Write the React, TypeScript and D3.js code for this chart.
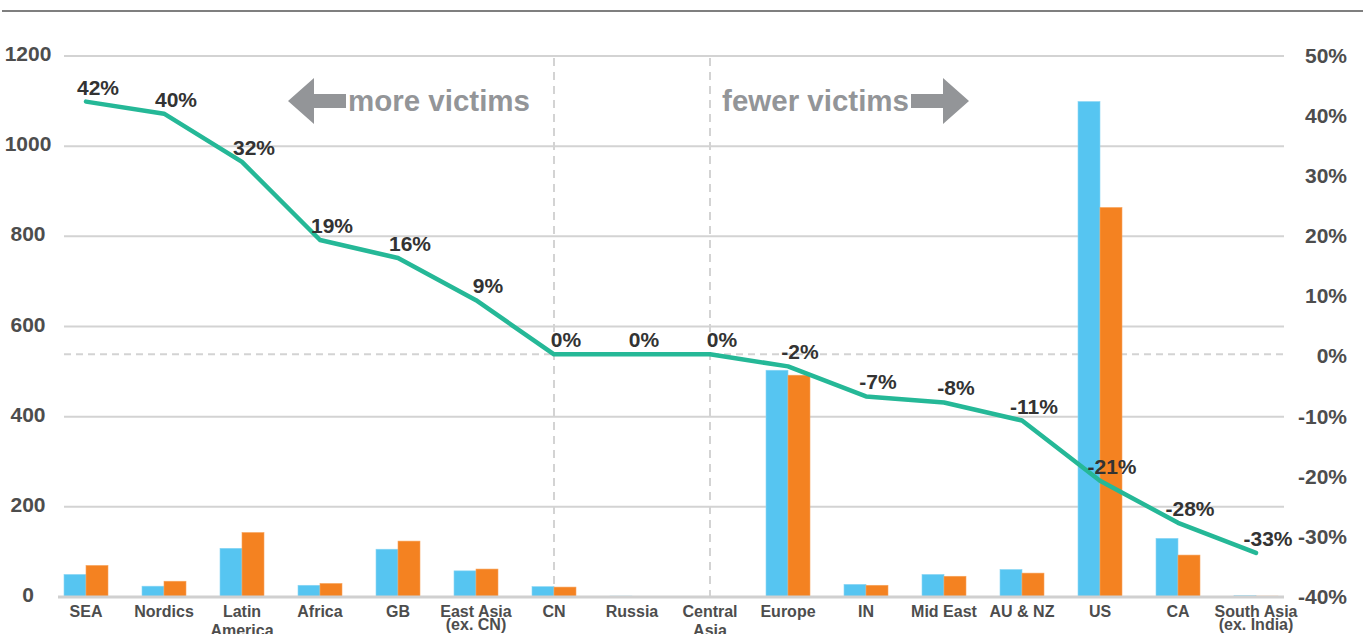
import React from "react";
import * as d3 from "d3";

const categories = ["SEA", "Nordics", "Latin America", "Africa", "GB", "East Asia (ex. CN)", "CN", "Russia", "Central Asia", "Europe", "IN", "Mid East", "AU & NZ", "US", "CA", "South Asia (ex. India)"];
const categoryLines = [["SEA"], ["Nordics"], ["Latin", "America"], ["Africa"], ["GB"], ["East Asia", "(ex. CN)"], ["CN"], ["Russia"], ["Central", "Asia"], ["Europe"], ["IN"], ["Mid East"], ["AU & NZ"], ["US"], ["CA"], ["South Asia", "(ex. India)"]];
const blueValues = [50, 24, 108, 26, 106, 58, 23, 2, 1, 503, 28, 50, 61, 1099, 130, 3];
const orangeValues = [70, 35, 143, 30, 124, 62, 22, 0.5, 0.3, 492, 26, 46, 53, 864, 93, 2];
const changePct = [42, 40, 32, 19, 16, 9, 0, 0, 0, -2, -7, -8, -11, -21, -28, -33];
const leftTicks = [0, 200, 400, 600, 800, 1000, 1200];
const rightTicks = [50, 40, 30, 20, 10, 0, -10, -20, -30, -40];
const dividerCategories = ["CN", "Central Asia"];

const FONT = "'Liberation Sans', Arial, Helvetica, sans-serif";

export default function App() {
  const W = 1363, H = 634;
  const x = d3.scaleBand<string>().domain(categories).range([47, 1295]).paddingInner(0.436).paddingOuter(0.218);
  const sub = d3.scaleBand<string>().domain(["blue", "orange"]).range([0, x.bandwidth()]);
  const yL = d3.scaleLinear().domain([0, 1200]).range([597, 56]);
  const yR = d3.scaleLinear().domain([-40, 50]).range([595, 53.5]);
  const cx = (c: string) => (x(c) as number) + x.bandwidth() / 2;
  const gridX0 = 64, gridX1 = 1284;

  const line = d3.line<number>().x((_, i) => cx(categories[i])).y((d) => yR(d));

  const arrowPath = (tipX: number, dir: number, cy: number) => {
    const headLen = 26, headH = 23, shaftH = 7, shaftLen = 32;
    const bx = tipX + dir * headLen;
    const ex = bx + dir * shaftLen;
    return `M${tipX},${cy} L${bx},${cy - headH} L${bx},${cy - shaftH} L${ex},${cy - shaftH} L${ex},${cy + shaftH} L${bx},${cy + shaftH} L${bx},${cy + headH} Z`;
  };

  return (
    <svg width={W} height={H} style={{ display: "block", position: "absolute", left: 0, top: 0 }} fontFamily={FONT}>
      <rect width={W} height={H} fill="#fff" />
      <line x1={2} x2={W} y1={11} y2={11} stroke="#555" strokeWidth={1.5} />
      {leftTicks.filter((t) => t !== 0).map((t) => (
        <line key={t} x1={gridX0} x2={gridX1} y1={yL(t)} y2={yL(t)} stroke="#d3d3d3" strokeWidth={2} />
      ))}
      <line x1={gridX0} x2={gridX1} y1={yR(0)} y2={yR(0)} stroke="#d3d3d3" strokeWidth={2} strokeDasharray="7,5" />
      {dividerCategories.map((c) => (
        <line key={c} x1={cx(c)} x2={cx(c)} y1={58} y2={597} stroke="#d3d3d3" strokeWidth={2} strokeDasharray="8,6" />
      ))}
      {categories.map((c, i) => (
        <g key={c}>
          <rect x={(x(c) as number) + (sub("blue") as number)} width={sub.bandwidth()} y={yL(blueValues[i])} height={yL(0) - yL(blueValues[i])} fill="#56C5F1" stroke="#8ad6f4" strokeWidth={0.6} />
          <rect x={(x(c) as number) + (sub("orange") as number)} width={sub.bandwidth()} y={yL(orangeValues[i])} height={yL(0) - yL(orangeValues[i])} fill="#F48221" stroke="#f7a45c" strokeWidth={0.6} />
        </g>
      ))}
      <line x1={gridX0 - 6} x2={gridX1} y1={yL(0)} y2={yL(0)} stroke="#d0d0d0" strokeWidth={3} />
      <path d={line(changePct) || ""} fill="none" stroke="#25B897" strokeWidth={4.5} strokeLinejoin="round" strokeLinecap="round" />
      {changePct.map((v, i) => (
        <text key={i} x={cx(categories[i]) + 12} y={yR(v) - 7} textAnchor="middle" fontSize={21} fontWeight="bold" fill="#333">{`${v}%`}</text>
      ))}
      {leftTicks.map((t) => (
        <text key={t} x={28} y={yL(t) + 5} textAnchor="middle" fontSize={21} fontWeight="bold" fill="#4d4d4d">{t}</text>
      ))}
      {rightTicks.map((t) => (
        <text key={t} x={1347} y={yR(t) + 9} textAnchor="end" fontSize={21} fontWeight="bold" fill="#4d4d4d">{`${t}%`}</text>
      ))}
      {categoryLines.map((lines, i) => {
        const tight = lines.length > 1 && lines[1].startsWith("(");
        return (
          <text key={i} x={cx(categories[i])} y={617} textAnchor="middle" fontSize={16} fontWeight="bold" fill="#4d4d4d">
            {lines.map((l, j) => (
              <tspan key={j} x={cx(categories[i])} dy={j === 0 ? 0 : tight ? 13 : 19}>{l}</tspan>
            ))}
          </text>
        );
      })}
      <path d={arrowPath(288, 1, 101)} fill="#939598" />
      <text x={348} y={111} fontSize={29.5} fontWeight="bold" fill="#939598">more victims</text>
      <text x={909} y={111} textAnchor="end" fontSize={29.5} fontWeight="bold" fill="#939598">fewer victims</text>
      <path d={arrowPath(969, -1, 101)} fill="#939598" />
    </svg>
  );
}
